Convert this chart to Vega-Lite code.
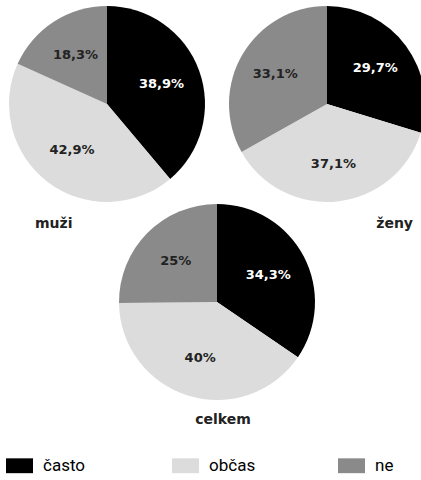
{
  "$schema": "https://vega.github.io/schema/vega-lite/v6.json",
  "padding": {"left": 6, "top": 6, "right": 0, "bottom": 0},
  "background": "white",
  "data": {
    "values": [
      {"skupina": "muži", "kat": "často", "poradi": 1, "podil": 38.9, "label": "38,9%"},
      {"skupina": "muži", "kat": "občas", "poradi": 2, "podil": 42.9, "label": "42,9%"},
      {"skupina": "muži", "kat": "ne", "poradi": 3, "podil": 18.3, "label": "18,3%"},
      {"skupina": "ženy", "kat": "často", "poradi": 1, "podil": 29.7, "label": "29,7%"},
      {"skupina": "ženy", "kat": "občas", "poradi": 2, "podil": 37.1, "label": "37,1%"},
      {"skupina": "ženy", "kat": "ne", "poradi": 3, "podil": 33.1, "label": "33,1%"},
      {"skupina": "celkem", "kat": "často", "poradi": 1, "podil": 34.3, "label": "34,3%"},
      {"skupina": "celkem", "kat": "občas", "poradi": 2, "podil": 40, "label": "40%"},
      {"skupina": "celkem", "kat": "ne", "poradi": 3, "podil": 25, "label": "25%"}
    ]
  },
  "columns": 3,
  "align": "each",
  "bounds": "flush",
  "spacing": {"row": 2, "column": 0},
  "concat": [
    {
      "width": 200, "height": 196,
      "title": {"text": "muži", "orient": "bottom", "anchor": "start", "dx": 28, "offset": 15},
      "transform": [{"filter": "datum.skupina === 'muži'"}],
      "encoding": {
        "theta": {"field": "podil", "type": "quantitative", "stack": true},
        "order": {"field": "poradi", "type": "ordinal"}
      },
      "layer": [
        {
          "mark": {"type": "arc", "radius": 98},
          "encoding": {
            "color": {"field": "kat", "type": "nominal", "scale": {"domain": ["často", "občas", "ne"], "range": ["#000000", "#dcdcdc", "#8a8a8a"]}, "legend": {"orient": "none", "legendX": -1, "legendY": 446, "title": null}}
          }
        },
        {
          "mark": {"type": "text", "radius": 58, "font": "DejaVu Sans", "fontWeight": "bold", "fontSize": 13},
          "encoding": {
            "text": {"field": "label", "type": "nominal"},
            "color": {"condition": {"test": "datum.kat === 'často'", "value": "#ffffff"}, "value": "#222222"}
          }
        }
      ]
    },
    {
      "width": 20, "height": 196,
      "transform": [{"filter": "false"}],
      "mark": "point",
      "encoding": {}
    },
    {
      "width": 200, "height": 196,
      "title": {"text": "ženy", "orient": "bottom", "anchor": "end", "dx": -14, "offset": 15},
      "transform": [{"filter": "datum.skupina === 'ženy'"}],
      "encoding": {
        "theta": {"field": "podil", "type": "quantitative", "stack": true},
        "order": {"field": "poradi", "type": "ordinal"}
      },
      "layer": [
        {
          "mark": {"type": "arc", "radius": 98},
          "encoding": {
            "color": {"field": "kat", "type": "nominal", "scale": {"domain": ["často", "občas", "ne"], "range": ["#000000", "#dcdcdc", "#8a8a8a"]}, "legend": {"orient": "none", "legendX": -1, "legendY": 446, "title": null}}
          }
        },
        {
          "mark": {"type": "text", "radius": 60, "font": "DejaVu Sans", "fontWeight": "bold", "fontSize": 13},
          "encoding": {
            "text": {"field": "label", "type": "nominal"},
            "color": {"condition": {"test": "datum.kat === 'často'", "value": "#ffffff"}, "value": "#222222"}
          }
        }
      ]
    },
    {
      "width": 200, "height": 196,
      "transform": [{"filter": "false"}],
      "mark": "point",
      "encoding": {}
    },
    {
      "width": 20, "height": 196,
      "title": {"text": "celkem", "orient": "bottom", "anchor": "middle", "dx": 6, "offset": 13},
      "transform": [{"filter": "datum.skupina === 'celkem'"}],
      "encoding": {
        "theta": {"field": "podil", "type": "quantitative", "stack": true},
        "order": {"field": "poradi", "type": "ordinal"}
      },
      "layer": [
        {
          "mark": {"type": "arc", "radius": 98},
          "encoding": {
            "color": {"field": "kat", "type": "nominal", "scale": {"domain": ["často", "občas", "ne"], "range": ["#000000", "#dcdcdc", "#8a8a8a"]}, "legend": {"orient": "none", "legendX": -1, "legendY": 446, "title": null}}
          }
        },
        {
          "mark": {"type": "text", "radius": 58, "font": "DejaVu Sans", "fontWeight": "bold", "fontSize": 13},
          "encoding": {
            "text": {"field": "label", "type": "nominal"},
            "color": {"condition": {"test": "datum.kat === 'často'", "value": "#ffffff"}, "value": "#222222"}
          }
        }
      ]
    }
  ],
  "config": {
    "view": {"stroke": null},
    "title": {"font": "DejaVu Sans", "fontWeight": "bold", "fontSize": 14, "color": "#222222"},
    "legend": {
      "direction": "horizontal",
      "columns": 3,
      "columnPadding": 82,
      "gridAlign": "all",
      "symbolType": "M-1,-0.55H1V0.55H-1Z",
      "symbolSize": 729,
      "symbolStrokeWidth": 0,
      "symbolOpacity": 1,
      "labelFont": "Roboto",
      "labelFontSize": 17,
      "labelColor": "#000000",
      "labelOffset": 10,
      "labelLimit": 300
    }
  }
}
